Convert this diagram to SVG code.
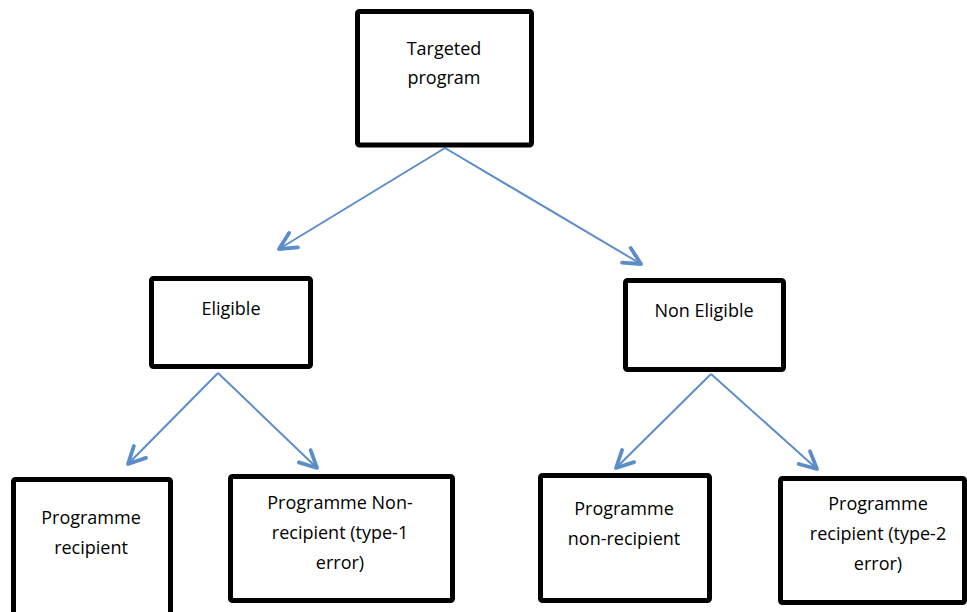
<svg xmlns="http://www.w3.org/2000/svg" width="967" height="612" viewBox="0 0 967 612">
<defs>
<style>
.box{fill:#fff;stroke:#000;stroke-width:5}
.lbl{font-family:"Open Sans","Liberation Sans",sans-serif;font-size:18px;fill:#000;text-anchor:middle}
.con{stroke:#5B8DC9;stroke-width:2;fill:none;marker-end:url(#ah)}
</style>
<marker id="ah" markerUnits="userSpaceOnUse" viewBox="-24 -14 28 28" markerWidth="28" markerHeight="28" refX="0" refY="0" orient="auto" overflow="visible">
<path d="M-17,-8.5 L0,0 L-17,8.5" fill="none" stroke="#5B8DC9" stroke-width="3.8" stroke-linecap="round" stroke-linejoin="round"/>
</marker>
</defs>
<rect width="967" height="612" fill="#fff"/>
<g id="connectors">
<line class="con" x1="445" y1="148" x2="279" y2="249"/>
<line class="con" x1="445" y1="148" x2="641" y2="264"/>
<line class="con" x1="218" y1="373" x2="128" y2="464"/>
<line class="con" x1="218" y1="373" x2="317" y2="468"/>
<line class="con" x1="711" y1="374" x2="616" y2="468"/>
<line class="con" x1="711" y1="374" x2="817" y2="469"/>
</g>
<g id="targeted">
<rect class="box" x="357.5" y="11.5" width="174" height="133.5" rx="2"/>
<text class="lbl" x="444" y="55">Targeted</text>
<text class="lbl" x="444" y="84">program</text>
</g>
<g id="eligible">
<rect class="box" x="151.5" y="278.5" width="159" height="88" rx="2"/>
<text class="lbl" x="231" y="315">Eligible</text>
</g>
<g id="non-eligible">
<rect class="box" x="625.5" y="280.5" width="158" height="89" rx="2"/>
<text class="lbl" x="704" y="317">Non Eligible</text>
</g>
<g id="recipient">
<rect class="box" x="13.5" y="479.5" width="157" height="140" rx="2"/>
<text class="lbl" x="91" y="524">Programme</text>
<text class="lbl" x="91" y="554">recipient</text>
</g>
<g id="non-recipient-type1">
<rect class="box" x="230.5" y="476.5" width="222" height="124" rx="2"/>
<text class="lbl" x="340" y="509">Programme Non-</text>
<text class="lbl" x="340" y="539">recipient (type-1</text>
<text class="lbl" x="340" y="569">error)</text>
</g>
<g id="non-recipient">
<rect class="box" x="540.5" y="475.5" width="169" height="125" rx="2"/>
<text class="lbl" x="624" y="515">Programme</text>
<text class="lbl" x="624" y="545">non-recipient</text>
</g>
<g id="recipient-type2">
<rect class="box" x="780.5" y="478.5" width="184" height="124" rx="2"/>
<text class="lbl" x="878" y="510">Programme</text>
<text class="lbl" x="878" y="540">recipient (type-2</text>
<text class="lbl" x="878" y="570">error)</text>
</g>
</svg>
